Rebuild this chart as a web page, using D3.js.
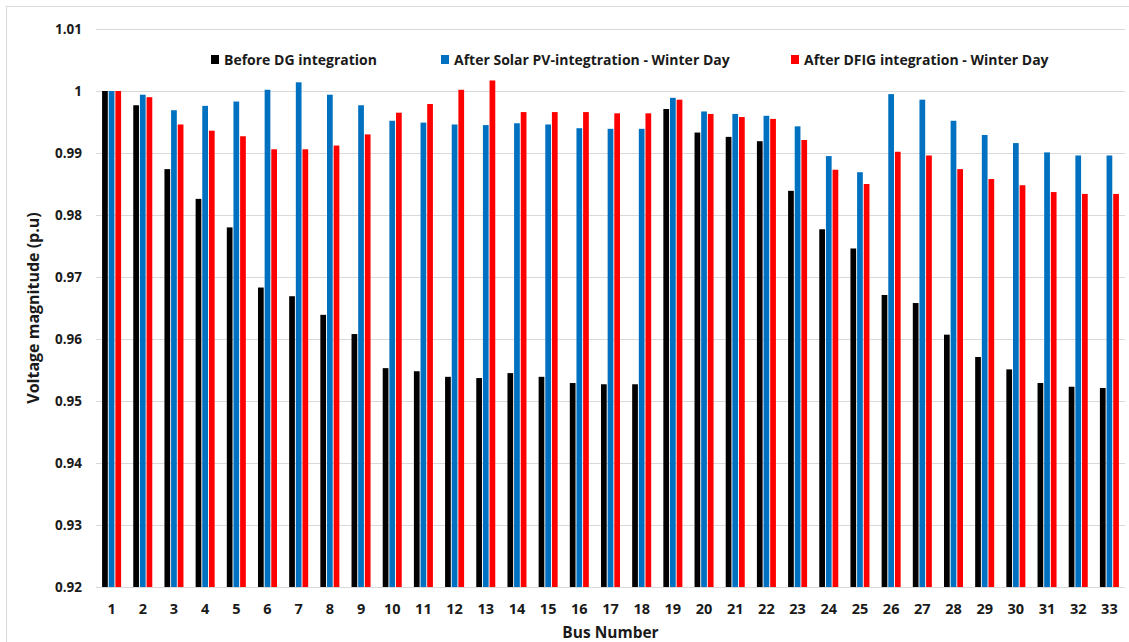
<!DOCTYPE html>
<html>
<head>
<meta charset="utf-8">
<script src="https://cdn.jsdelivr.net/npm/d3@7"></script>
<style>
  html, body { margin: 0; padding: 0; background: #ffffff; }
  svg { display: block; font-family: "Open Sans", Lato, sans-serif; }
</style>
</head>
<body>
<svg id="chart" width="1129" height="642"></svg>
<script>
const buses = d3.range(1, 34).map(String);
const seriesNames = ["Before DG integration", "After Solar PV-integtration - Winter Day", "After DFIG integration - Winter Day"];
const seriesColors = ["#000000", "#0070C0", "#FF0000"];
const beforeDG = [1.0000, 0.9977, 0.9874, 0.9826, 0.9780, 0.9683, 0.9669, 0.9639, 0.9608, 0.9553, 0.9548,
  0.9539, 0.9537, 0.9545, 0.9539, 0.9529, 0.9527, 0.9527, 0.9971, 0.9933, 0.9926, 0.9919,
  0.9839, 0.9777, 0.9746, 0.9671, 0.9658, 0.9607, 0.9571, 0.9551, 0.9529, 0.9523, 0.9521];
const afterSolar = [1.0000, 0.9994, 0.9969, 0.9976, 0.9983, 1.0002, 1.0014, 0.9994, 0.9977, 0.9952, 0.9949,
  0.9946, 0.9945, 0.9948, 0.9946, 0.9940, 0.9939, 0.9939, 0.9989, 0.9967, 0.9963, 0.9960,
  0.9943, 0.9895, 0.9869, 0.9995, 0.9986, 0.9952, 0.9929, 0.9916, 0.9901, 0.9896, 0.9896];
const afterDFIG = [1.0000, 0.9990, 0.9946, 0.9936, 0.9927, 0.9906, 0.9906, 0.9912, 0.9930, 0.9965, 0.9979,
  1.0002, 1.0017, 0.9966, 0.9966, 0.9966, 0.9964, 0.9964, 0.9986, 0.9963, 0.9958, 0.9955,
  0.9921, 0.9873, 0.9850, 0.9902, 0.9896, 0.9874, 0.9858, 0.9848, 0.9837, 0.9834, 0.9834];
const yTicks = [0.92, 0.93, 0.94, 0.95, 0.96, 0.97, 0.98, 0.99, 1.00, 1.01];
const yTickLabels = ["0.92", "0.93", "0.94", "0.95", "0.96", "0.97", "0.98", "0.99", "1", "1.01"];

const allSeries = [beforeDG, afterSolar, afterDFIG];

const svg = d3.select("#chart");
const plotL = 96, plotR = 1125, plotT = 29, plotB = 587;
const textColor = "#1a1a1a";
const fontFam = "'Open Sans', Lato, sans-serif";

// chart border (left/top visible)
svg.append("rect").attr("x", 6.5).attr("y", 6.5).attr("width", 1140).attr("height", 660)
  .attr("fill", "#fff").attr("stroke", "#d9d9d9").attr("stroke-width", 1);

const x0 = d3.scaleBand().domain(buses).range([plotL, plotR]).paddingInner(0.39).paddingOuter(0.195);
const x1 = d3.scaleBand().domain(d3.range(3)).range([0, x0.bandwidth()]).paddingInner(0.14);
const y = d3.scaleLinear().domain([0.92, 1.01]).range([plotB, plotT]);

// gridlines
svg.append("g").selectAll("line").data(yTicks).join("line")
  .attr("x1", plotL).attr("x2", plotR)
  .attr("y1", d => Math.round(y(d)) + 0.5).attr("y2", d => Math.round(y(d)) + 0.5)
  .attr("stroke", "#d9d9d9").attr("stroke-width", 1);

// y axis labels
const yAxis = d3.axisLeft(y).tickValues(yTicks).tickFormat((d, i) => yTickLabels[i]).tickSize(0).tickPadding(0);
const yg = svg.append("g").attr("transform", `translate(82,0)`).call(yAxis);
yg.select(".domain").remove();
yg.selectAll("text").attr("font-family", fontFam).attr("font-weight", 700)
  .attr("font-size", 13.5).attr("fill", textColor);

// bars
const groups = svg.append("g").selectAll("g").data(buses).join("g")
  .attr("transform", d => `translate(${x0(d)},0)`);
groups.selectAll("rect").data((d, i) => allSeries.map((s, k) => ({k, v: s[i]}))).join("rect")
  .attr("x", d => x1(d.k))
  .attr("width", x1.bandwidth())
  .attr("y", d => y(d.v))
  .attr("height", d => y(0.92) - y(d.v))
  .attr("fill", d => seriesColors[d.k]);

// x axis
const xAxis = d3.axisBottom(x0).tickSize(0).tickPadding(0);
const xg = svg.append("g").attr("transform", `translate(0,${plotB})`).call(xAxis);
xg.select(".domain").attr("stroke", "#d9d9d9").attr("d", `M${plotL},0.5H${plotR}`);
xg.selectAll("text").attr("font-family", fontFam).attr("font-weight", 700)
  .attr("font-size", 14.5).attr("fill", textColor).attr("dy", null).attr("y", 27);

// axis titles
svg.append("text").attr("x", (plotL + plotR) / 2).attr("y", 638).attr("text-anchor", "middle")
  .attr("font-family", fontFam).attr("font-weight", 700).attr("font-size", 15.5)
  .attr("fill", textColor).text("Bus Number");
svg.append("text").attr("transform", `translate(39,${(plotT + plotB) / 2}) rotate(-90)`)
  .attr("text-anchor", "middle").attr("font-family", fontFam).attr("font-weight", 700).attr("font-size", 16)
  .attr("fill", textColor).text("Voltage magnitude (p.u)");

// legend
const legendX = [211, 441, 791];
const lg = svg.append("g").selectAll("g").data(seriesNames).join("g")
  .attr("transform", (d, i) => `translate(${legendX[i]},55)`);
lg.append("rect").attr("width", 8).attr("height", 9).attr("fill", (d, i) => seriesColors[i]);
lg.append("text").attr("x", 13).attr("y", 9.5).attr("font-family", fontFam).attr("font-weight", 700)
  .attr("font-size", 14).attr("fill", textColor).text(d => d);
</script>
</body>
</html>
